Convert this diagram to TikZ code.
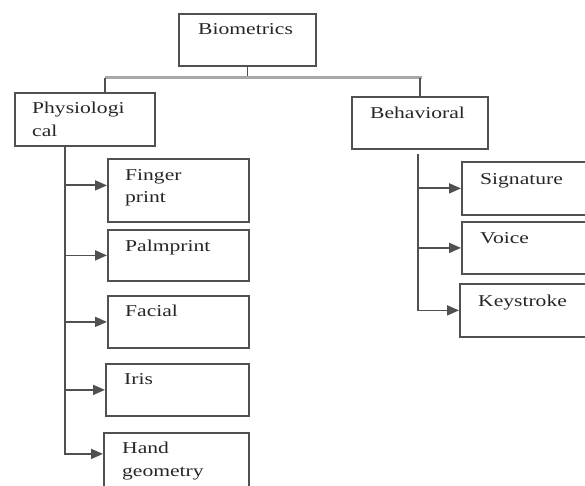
\documentclass[tikz,border=0pt]{standalone}
\usepackage{fontspec}
\usepackage{tikz}
\usetikzlibrary{arrows.meta}
\newfontfamily\boxfont[FakeStretch=1.3]{Liberation Serif}
\definecolor{linegray}{HTML}{505050}
\definecolor{bargray}{HTML}{A8A8A8}

\tikzset{
	box/.style={draw=linegray, line width=1.8pt, anchor=north west, inner sep=0pt},
	boxtext/.style={anchor=north west, align=left, inner sep=0pt, text=black!85,
		font=\boxfont\fontsize{16.6}{22.5}\selectfont},
	link/.style={draw=linegray, line width=1.8pt},
	feed/.style={link, -{Triangle[length=12pt,width=10pt]}},
	bar/.style={draw=bargray, line width=2.6pt},
}

\begin{document}
\begin{tikzpicture}[x=1pt,y=-1pt]
	\useasboundingbox (0,0) rectangle (585,486);
	\clip (0,0) rectangle (585,486);

	%boxes
	\node[box, minimum width=137, minimum height=52] (bio)    at (178,13)  {};
	\node[box, minimum width=140, minimum height=53] (phys)   at (14,92)   {};
	\node[box, minimum width=136, minimum height=52] (behav)  at (351,96)  {};
	%
	\node[box, minimum width=141, minimum height=63] (finger) at (107,158) {};
	\node[box, minimum width=141, minimum height=51] (palm)   at (107,229) {};
	\node[box, minimum width=141, minimum height=52] (facial) at (107,295) {};
	\node[box, minimum width=143, minimum height=52] (iris)   at (105,363) {};
	\node[box, minimum width=145, minimum height=70] (hand)   at (103,432) {};
	%
	\node[box, minimum width=140, minimum height=53] (sign)   at (461,161) {};
	\node[box, minimum width=140, minimum height=52] (voice)  at (461,221) {};
	\node[box, minimum width=142, minimum height=53] (keys)   at (459,283) {};

	%texts (top of first line about 11 below the cap)
	\node[boxtext] (bio-t)    at ([shift={(20,10)}]bio.north west)    {Biometrics};
	\node[boxtext] (phys-t)   at ([shift={(18,10)}]phys.north west)   {Physiologi\\cal};
	\node[boxtext] (behav-t)  at ([shift={(19,11)}]behav.north west)  {Behavioral};
	\node[boxtext] (finger-t) at ([shift={(18,11)}]finger.north west) {Finger\\print};
	\node[boxtext] (palm-t)   at ([shift={(18,11)}]palm.north west)   {Palmprint};
	\node[boxtext] (facial-t) at ([shift={(18,10)}]facial.north west) {Facial};
	\node[boxtext] (iris-t)   at ([shift={(19,10)}]iris.north west)   {Iris};
	\node[boxtext] (hand-t)   at ([shift={(19,10)}]hand.north west)   {Hand\\geometry};
	\node[boxtext] (sign-t)   at ([shift={(19,12)}]sign.north west)   {Signature};
	\node[boxtext] (voice-t)  at ([shift={(19,11)}]voice.north west)  {Voice};
	\node[boxtext] (keys-t)   at ([shift={(19,12)}]keys.north west)   {Keystroke};

	%top split
	\draw[link] (bio.south) -- ++(0,11) coordinate (barmid);
	\coordinate (pdrop) at ([xshift=91]phys.north west);
	\draw[bar] (pdrop |- barmid) -- ([xshift=2]behav.north |- barmid);
	\draw[link] (pdrop |- barmid) -- (pdrop);
	\draw[link] (behav.north |- barmid) -- (behav.north);

	%left trunk
	\coordinate (ltrunk) at ([xshift=51]phys.south west);
	\draw[feed] (ltrunk) |- ([yshift=14]hand.west);
	\draw[feed] (ltrunk |- finger.west) ++(0,-5) -- ([yshift=5]finger.west);
	\draw[feed] (ltrunk |- palm.west) -- (palm.west);
	\draw[feed] (ltrunk |- facial.west) -- (facial.west);
	\draw[feed] (ltrunk |- iris.west) -- (iris.west);

	%right trunk
	\coordinate (rtrunk) at ([shift={(-2,4)}]behav.south);
	\draw[feed] (rtrunk) |- (keys.west);
	\draw[feed] (rtrunk |- sign.west) -- (sign.west);
	\draw[feed] (rtrunk |- voice.west) -- (voice.west);
\end{tikzpicture}
\end{document}
